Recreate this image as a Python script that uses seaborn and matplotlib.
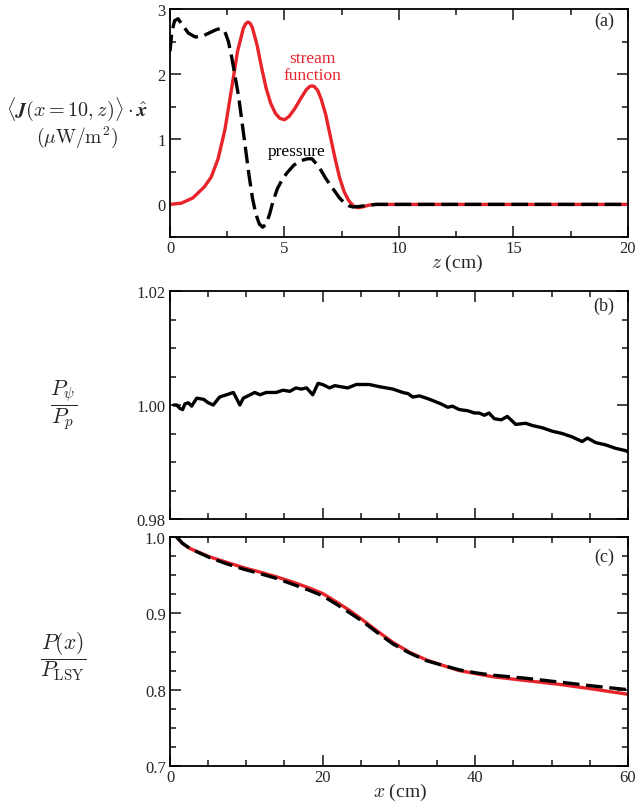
import numpy as np
import pandas as pd
import matplotlib
matplotlib.use("Agg")
import matplotlib.pyplot as plt
from matplotlib.ticker import MultipleLocator
import seaborn as sns

# panel (a): energy flux at x = 10 cm versus depth z
z_stream = [0, 0.5, 1.0, 1.5, 1.8, 2.1, 2.4, 2.7, 2.95, 3.2, 3.3, 3.4, 3.5, 3.6, 3.8, 4.0, 4.2, 4.4,
            4.6, 4.8, 5.0, 5.2, 5.45, 5.7, 5.95, 6.1, 6.2, 6.3, 6.45, 6.6, 6.8, 7.0, 7.2, 7.4, 7.6, 7.8,
            8.0, 8.2, 8.4, 8.7, 9.0, 10, 20]
j_stream = [0, 0.02, 0.1, 0.27, 0.42, 0.7, 1.15, 1.8, 2.35, 2.7, 2.77, 2.8, 2.78, 2.71, 2.45, 2.1,
            1.78, 1.55, 1.4, 1.32, 1.3, 1.35, 1.47, 1.62, 1.76, 1.81, 1.82, 1.81, 1.75, 1.62, 1.38,
            1.05, 0.72, 0.42, 0.2, 0.06, -0.02, -0.05, -0.04, -0.01, 0, 0, 0]
z_press = [0, 0.08, 0.2, 0.35, 0.55, 0.8, 1.1, 1.4, 1.7, 2.0, 2.2, 2.4, 2.55, 2.7, 2.84, 3.0,
           3.15, 3.3, 3.45, 3.6, 3.75, 3.9, 4.05, 4.2, 4.35, 4.5, 4.7, 4.9, 5.1, 5.4, 5.7, 6.0,
           6.2, 6.4, 6.6, 6.8, 7.0, 7.2, 7.4, 7.6, 7.8, 8.0, 8.3, 8.7, 9.0, 20]
j_press = [2.35, 2.65, 2.82, 2.85, 2.75, 2.63, 2.57, 2.58, 2.63, 2.68, 2.7, 2.65, 2.5, 2.25, 1.97, 1.65,
           1.25, 0.85, 0.45, 0.1, -0.15, -0.3, -0.35, -0.3, -0.15, 0.05, 0.25, 0.38, 0.48, 0.6, 0.67, 0.7,
           0.7, 0.62, 0.52, 0.4, 0.3, 0.2, 0.1, 0.03, -0.02, -0.04, -0.03, -0.01, 0, 0]

# panel (b): ratio of powers P_psi / P_p
x_ratio = [0.5, 0.87, 1.3, 1.65, 1.96, 2.4, 2.83, 3.5, 4.4, 5.0, 5.66, 6.5, 7.4, 8.3, 8.7, 9.15,
           9.6, 10.5, 11.1, 11.8, 12.6, 13.9, 14.8, 15.7, 16.5, 17.2, 17.9, 18.7, 19.4, 20.0,
           20.9, 21.6, 22.4, 23.3, 24.4, 26.1, 27.5, 29.2, 30.5, 31.2, 31.8, 32.7, 33.6, 34.4,
           35.5, 36.4, 37.0, 37.9, 39.0, 39.9, 40.5, 41.2, 41.8, 42.5, 43.4, 44.2, 45.3, 46.6,
           47.5, 48.8, 50.1, 51.4, 52.7, 54.0, 54.7, 55.8, 57.1, 58.4, 59.7, 60.0]
ratio = [1.0000, 1.0000, 0.9994, 0.9992, 1.0002, 1.0004, 0.9998, 1.0012, 1.0010, 1.0004, 1.0000,
         1.0014, 1.0018, 1.0022, 1.0012, 1.0000, 1.0012, 1.0018, 1.0022, 1.0018, 1.0022, 1.0022,
         1.0026, 1.0024, 1.0030, 1.0028, 1.0030, 1.0018, 1.0038, 1.0036, 1.0030, 1.0034, 1.0032,
         1.0030, 1.0036, 1.0036, 1.0032, 1.0028, 1.0022, 1.0020, 1.0014, 1.0016, 1.0012, 1.0008,
         1.0002, 0.9996, 0.9998, 0.9992, 0.9990, 0.9986, 0.9986, 0.9982, 0.9986, 0.9976, 0.9974,
         0.9980, 0.9966, 0.9968, 0.9964, 0.9960, 0.9954, 0.9950, 0.9944, 0.9936, 0.9942, 0.9934,
         0.9930, 0.9924, 0.9920, 0.9918]

# panel (c): power normalised by LSY
x_power = [0.87, 1.6, 2.6, 5.2, 7.4, 9.6, 11.8, 13.9, 16.1, 18.3, 20.0, 21.8, 23.5, 25.3, 27.0,
           29.2, 31.4, 33.6, 35.7, 37.9, 40.1, 42.3, 46.6, 51.0, 55.3, 60.0]
p_stream = [1.0, 0.992, 0.985, 0.974, 0.967, 0.960, 0.954, 0.948, 0.941, 0.933, 0.926, 0.915, 0.904,
            0.891, 0.878, 0.862, 0.849, 0.839, 0.832, 0.825, 0.821, 0.817, 0.812, 0.807, 0.801, 0.794]
p_press = [1.0, 0.992, 0.985, 0.973, 0.965, 0.958, 0.952, 0.946, 0.938, 0.930, 0.923, 0.912, 0.901,
           0.889, 0.876, 0.860, 0.848, 0.838, 0.832, 0.826, 0.822, 0.819, 0.815, 0.810, 0.805, 0.800]

sns.set_style("ticks")
plt.rcParams['font.family'] = ['Liberation Serif', 'DejaVu Serif']
plt.rcParams['mathtext.fontset'] = 'cm'
plt.rcParams['font.size'] = 11

RED = '#e8242a'
DASH = (0, (5, 2))

fig = plt.figure(figsize=(6.44, 8.04), dpi=100)
ax_a = fig.add_axes([0.264, 0.704, 0.711, 0.2836])
ax_b = fig.add_axes([0.264, 0.3532, 0.711, 0.2836])
ax_c = fig.add_axes([0.264, 0.046, 0.711, 0.2848])

df_a1 = pd.DataFrame({'z': z_stream, 'J': j_stream})
df_a2 = pd.DataFrame({'z': z_press, 'J': j_press})
sns.lineplot(data=df_a1, x='z', y='J', ax=ax_a, color=RED, lw=2.4, sort=False)
sns.lineplot(data=df_a2, x='z', y='J', ax=ax_a, color='black', lw=2.4, sort=False,
             linestyle=DASH)
ax_a.set_xlim(0, 20)
ax_a.set_ylim(-0.5, 3)
ax_a.xaxis.set_major_locator(MultipleLocator(5))
ax_a.xaxis.set_minor_locator(MultipleLocator(2.5))
ax_a.yaxis.set_major_locator(MultipleLocator(1))
ax_a.yaxis.set_minor_locator(MultipleLocator(0.5))
ax_a.set_xlabel('')
ax_a.set_ylabel('')
ax_a.text(6.2, 2.12, 'stream\nfunction', color=RED, ha='center', va='center',
          fontsize=12.5, linespacing=1.05)
ax_a.text(5.55, 0.82, 'pressure', color='black', ha='center', va='center', fontsize=12.5)
ax_a.text(0.97, 0.95, '(a)', transform=ax_a.transAxes, ha='right', va='center', fontsize=13)
fig.text(0.71, 0.672, r'$z$ (cm)', ha='center', va='center', fontsize=14)

df_b = pd.DataFrame({'x': x_ratio, 'r': ratio})
sns.lineplot(data=df_b, x='x', y='r', ax=ax_b, color='black', lw=2.4)
ax_b.set_xlim(0, 60)
ax_b.set_ylim(0.98, 1.02)
ax_b.xaxis.set_major_locator(MultipleLocator(20))
ax_b.xaxis.set_minor_locator(MultipleLocator(5))
ax_b.yaxis.set_major_locator(MultipleLocator(0.02))
ax_b.yaxis.set_minor_locator(MultipleLocator(0.005))
ax_b.yaxis.set_major_formatter(plt.FormatStrFormatter('%.2f'))
ax_b.tick_params(labelbottom=False)
ax_b.set_xlabel('')
ax_b.set_ylabel('')
ax_b.text(0.97, 0.935, '(b)', transform=ax_b.transAxes, ha='right', va='center', fontsize=13)

df_c1 = pd.DataFrame({'x': x_power, 'P': p_stream})
df_c2 = pd.DataFrame({'x': x_power, 'P': p_press})
sns.lineplot(data=df_c1, x='x', y='P', ax=ax_c, color=RED, lw=2.4)
sns.lineplot(data=df_c2, x='x', y='P', ax=ax_c, color='black', lw=2.4, linestyle=DASH)
ax_c.set_xlim(0, 60)
ax_c.set_ylim(0.7, 1.0)
ax_c.xaxis.set_major_locator(MultipleLocator(20))
ax_c.xaxis.set_minor_locator(MultipleLocator(5))
ax_c.yaxis.set_major_locator(MultipleLocator(0.1))
ax_c.yaxis.set_minor_locator(MultipleLocator(0.025))
ax_c.yaxis.set_major_formatter(plt.FormatStrFormatter('%.1f'))
ax_c.set_ylabel('')
ax_c.set_xlabel('')
ax_c.text(0.97, 0.915, '(c)', transform=ax_c.transAxes, ha='right', va='center', fontsize=13)
fig.text(0.621, 0.0145, r'$x$ (cm)', ha='center', va='center', fontsize=14)

for ax in (ax_a, ax_b, ax_c):
    ax.tick_params(which='both', direction='in', top=True, right=True, labelsize=12,
                   width=1.2)
    ax.tick_params(axis='x', pad=2)
    ax.tick_params(axis='y', pad=3)
    ax.tick_params(which='major', length=8)
    ax.tick_params(which='minor', length=4)
    for s in ax.spines.values():
        s.set_linewidth(1.3)
        s.set_color('black')

# y labels written horizontally to the left of each panel
fig.text(0.12, 0.864, r'$\langle \boldsymbol{J}(x=10,z)\rangle\cdot\hat{\boldsymbol{x}}$',
         ha='center', va='center', fontsize=14.5)
fig.text(0.12, 0.829, r'$(\mu\mathrm{W/m}^2)$', ha='center', va='center', fontsize=14)
fig.text(0.098, 0.495, r'$\dfrac{P_\psi}{P_p}$', ha='center', va='center', fontsize=15.5)
fig.text(0.098, 0.183, r'$\dfrac{P(x)}{P_{\mathrm{LSY}}}$', ha='center', va='center', fontsize=15.5)

fig.savefig('out.png', dpi=100)
